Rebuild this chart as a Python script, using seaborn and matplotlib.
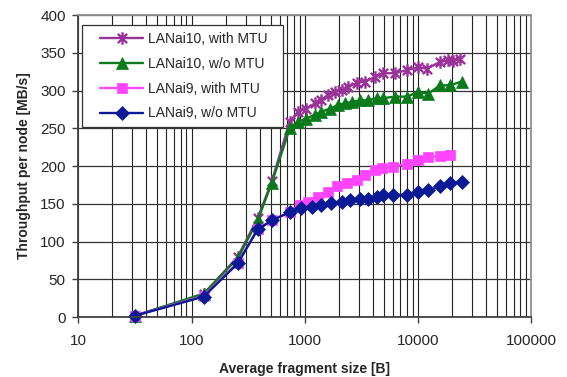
import matplotlib
matplotlib.use("Agg")
import matplotlib.pyplot as plt
import seaborn as sns
from matplotlib.path import Path
from matplotlib.lines import Line2D
from matplotlib.legend_handler import HandlerLine2D
from matplotlib.ticker import LogLocator, FuncFormatter, NullFormatter

# ---- data ----
x_l10_mtu = [32, 128, 256, 384, 512, 737, 873, 1035, 1226, 1405, 1608, 1842, 2112, 2416,
             2870, 3398, 4161, 4932, 6254, 7943, 10060, 11940, 15660, 18540, 20530, 23530]
y_l10_mtu = [2, 30, 80, 131, 180, 259, 272, 276, 283, 287, 294, 298, 301, 305,
             310, 312, 318, 323, 323, 327, 331, 329, 338, 340, 339, 342]

x_l10_nomtu = [32, 128, 256, 384, 512, 737, 873, 1035, 1226, 1405, 1665, 1971, 2259, 2590,
               3069, 3630, 4311, 4932, 6254, 7943, 10060, 12330, 15660, 19190, 24360]
y_l10_nomtu = [2, 31, 78, 128, 178, 250, 259, 263, 268, 272, 276, 281, 283, 285,
               287, 287, 290, 290, 292, 292, 298, 296, 307, 307, 312]

x_l9_mtu = [32, 128, 256, 384, 512, 737, 903, 1063, 1304, 1600, 1920, 2354, 2890, 3398,
            4161, 4775, 6045, 7943, 10060, 12330, 15660, 19190]
y_l9_mtu = [2, 28, 72, 117, 128, 139, 148, 153, 159, 166, 173, 177, 181, 188,
            195, 197, 199, 203, 208, 212, 213, 215]

x_l9_nomtu = [32, 128, 256, 384, 512, 737, 935, 1147, 1405, 1722, 2112, 2500, 3069, 3610,
              4311, 4932, 6045, 7943, 10060, 12330, 15660, 19190, 24360]
y_l9_nomtu = [2, 27, 71, 116, 128, 139, 144, 146, 148, 151, 153, 155, 157, 157,
              159, 162, 162, 162, 166, 168, 173, 177, 179]

labels = ["LANai10, with MTU", "LANai10, w/o MTU", "LANai9, with MTU", "LANai9, w/o MTU"]
y_ticks = [0, 50, 100, 150, 200, 250, 300, 350, 400]

# ---- style ----
sns.set_style("white")
plt.rcParams['font.family'] = ['Liberation Sans', 'DejaVu Sans']

star = Path([(-1, -1), (1, 1), (-1, 1), (1, -1), (0, -1.35), (0, 1.35)],
            [Path.MOVETO, Path.LINETO] * 3)

fig = plt.figure(figsize=(5.67, 3.77), dpi=100)
ax = fig.add_axes([0.138, 0.159, 0.799, 0.801])

series = [
    (x_l10_mtu, y_l10_mtu, "#993399", star, 9, 1.7),
    (x_l10_nomtu, y_l10_nomtu, "#0A7A1A", "^", 8.5, 0.5),
    (x_l9_mtu, y_l9_mtu, "#FF44FF", "s", 7, 0.5),
    (x_l9_nomtu, y_l9_nomtu, "#0A1A96", "D", 6.8, 0.5),
]
for (xs, ys, c, m, ms, mew), lab in zip(series, labels):
    sns.lineplot(x=xs, y=ys, ax=ax, color=c, marker=m, markersize=ms,
                 markeredgecolor=c, markerfacecolor=c, markeredgewidth=mew,
                 linewidth=1.7, label=lab, sort=False, estimator=None, clip_on=False)

ax.set_xscale("log")
ax.set_xlim(10, 100000)
ax.set_ylim(0, 400)
ax.set_yticks(y_ticks)
ax.xaxis.set_major_locator(LogLocator(base=10, numticks=10))
ax.xaxis.set_minor_locator(LogLocator(base=10, subs=range(2, 10), numticks=20))
ax.xaxis.set_major_formatter(FuncFormatter(lambda v, p: f"{int(round(v))}"))
ax.xaxis.set_minor_formatter(NullFormatter())

ax.set_axisbelow(True)
ax.grid(which="both", axis="x", color="#222222", linewidth=0.8)
ax.grid(which="major", axis="y", color="#333333", linewidth=0.9)

ax.tick_params(axis="y", which="major", direction="out", length=4, width=1,
               color="#404040", labelsize=11, pad=5, left=True)
ax.tick_params(axis="x", which="major", direction="out", length=4, width=1,
               color="#404040", labelsize=11, pad=8, bottom=True)
ax.tick_params(axis="x", which="minor", length=0)

for s in ["left", "bottom"]:
    ax.spines[s].set_color("#404040")
    ax.spines[s].set_linewidth(1.3)
for s in ["top", "right"]:
    ax.spines[s].set_color("#909090")
    ax.spines[s].set_linewidth(1.3)

ax.set_xlabel("Average fragment size [B]", fontsize=10, fontweight="bold", labelpad=10)
ax.set_ylabel("Throughput per node [MB/s]", fontsize=10, fontweight="bold", labelpad=7)

leg = ax.legend(loc="upper left", bbox_to_anchor=(0.009, 0.626, 0.444, 0.341),
                mode="expand", frameon=True,
                fancybox=False, edgecolor="#333333", framealpha=1, fontsize=10,
                handlelength=3.9, labelspacing=0.78, borderaxespad=0,
                borderpad=0.5, handletextpad=0.35,
                handler_map={Line2D: HandlerLine2D(xpad=0.75)})
leg.get_frame().set_linewidth(0.9)

fig.savefig("out.png", dpi=100)
